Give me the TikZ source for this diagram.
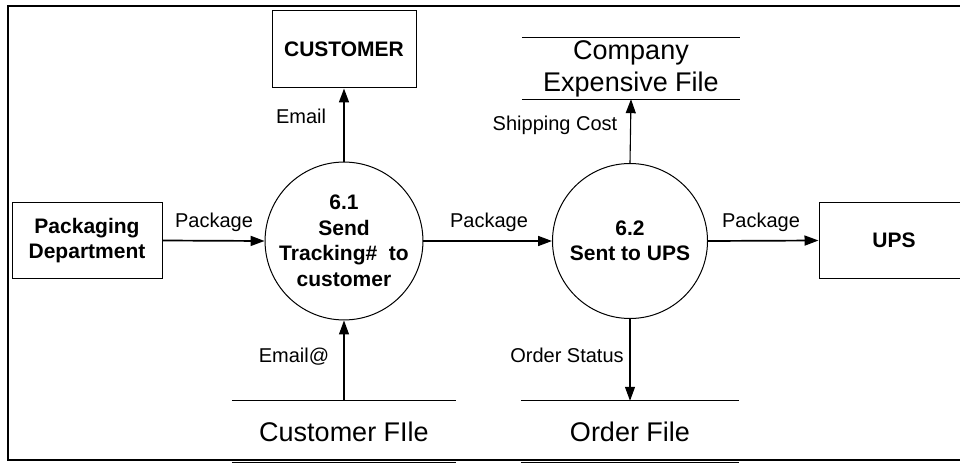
\documentclass[tikz,border=0pt]{standalone}
\usepackage{fontspec}
\setmainfont{Liberation Sans}
\usetikzlibrary{arrows.meta}

\tikzset{
  entity/.style={draw, line width=1pt, minimum width=150pt, minimum height=76pt,
    font=\fontsize{21}{25.5}\selectfont\bfseries, align=center, inner sep=0pt},
  process/.style={draw, circle, line width=1pt, minimum size=155pt,
    font=\fontsize{21}{25.5}\selectfont\bfseries, align=center, inner sep=0pt},
  store/.style={minimum height=61pt, font=\fontsize{27}{32}\selectfont,
    align=center, inner sep=0pt},
  flow/.style={-{Triangle[length=14pt,width=10pt]}, line width=1.7pt},
  thinflow/.style={-{Triangle[length=14pt,width=10pt]}, line width=1.1pt},
  lbl/.style={font=\fontsize{20}{24}\selectfont, anchor=base, inner sep=0pt},
}

\begin{document}
\begin{tikzpicture}[x=1pt, y=-1pt]
\useasboundingbox (0,0) rectangle (960,465);
\draw[line width=1.8pt] (8,6) rectangle (975,460);

% external entities
\node[entity] (pack) at (87,240.5) {Packaging\\Department};
\node[entity, minimum width=144pt, minimum height=77pt] (cust) at (344,49.5) {CUSTOMER};
\node[entity] (ups) at (894,240.5) {UPS};

% processes
\node[process] (p1) at (344,241) {6.1\\Send\\Tracking\# \ to\\customer};
\node[process] (p2) at (630,241) {6.2\\Sent to UPS};

% data stores
\node[store, minimum width=218pt] (cef) at (631,68.5) {Company\\Expensive File};
\node[store, minimum width=224pt] (cfile) at (344,431.5) {Customer FIle};
\node[store, minimum width=218pt] (ofile) at (630,431.5) {Order File};
\foreach \s in {cef,cfile,ofile} {
  \draw[line width=1.1pt] (\s.north west) -- (\s.north east);
  \draw[line width=1.1pt] (\s.south west) -- (\s.south east);
}

% flows
\draw[flow] (pack.east) -- (p1.west);
\draw[flow] (p1.east) -- (p2.west);
\draw[flow] (p2.east) -- (ups.west);
\draw[flow] (p1.north) -- (cust.south);
\draw[thinflow] (p2.north) -- (cef.south);
\draw[thinflow] (cfile.north) -- (p1.south);
\draw[thinflow] (p2.south) -- (ofile.north);

% labels
\node[lbl] (l1) at (214,227) {Package};
\node[lbl] (l2) at (489,227) {Package};
\node[lbl] (l3) at (761,227) {Package};
\node[lbl] (l4) at (301,124) {Email};
\node[lbl] (l5) at (555,131) {Shipping Cost};
\node[lbl] (l6) at (294,362) {Email@};
\node[lbl] (l7) at (567,362) {Order Status};
\end{tikzpicture}
\end{document}
